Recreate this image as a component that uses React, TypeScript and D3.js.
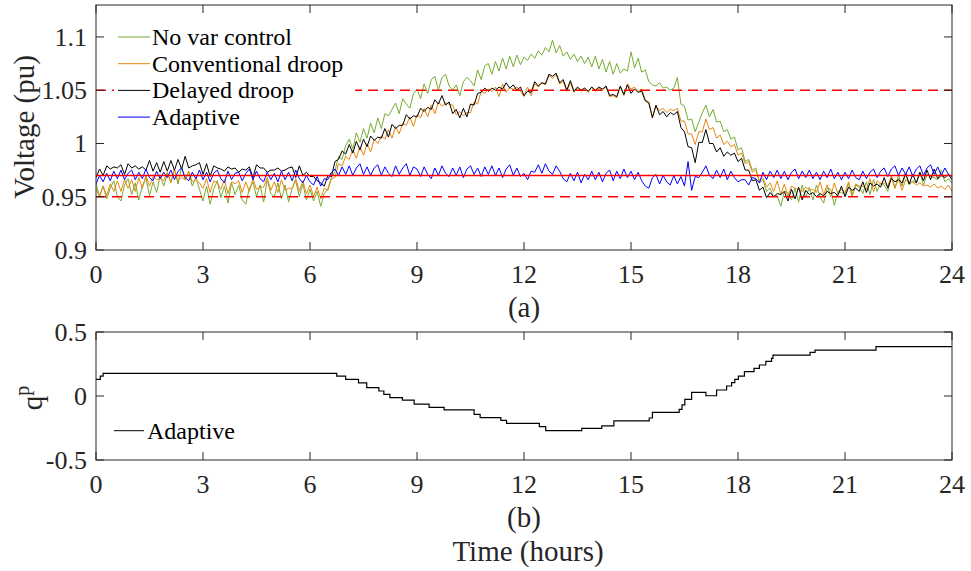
import React from 'react';
import * as d3 from 'd3';

// time grid: one sample every 0.1 h from 0 to 24 h
const STEP_H = 0.1;
// voltages in 0.001 pu, one row per hour
const noVarControl = [
  962,951,960,948,958,965,950,946,961,967,
  952,963,947,960,968,951,964,954,970,960,
  972,964,976,962,978,966,973,960,968,957,
  946,960,943,957,965,949,960,944,963,952,
  961,947,943,958,964,950,961,945,966,953,
  950,963,948,961,945,958,965,950,962,947,
  957,946,955,941,953,957,968,974,988,985,
  998,1004,995,1010,1001,1014,1005,1019,1010,1024,
  1014,1028,1026,1032,1038,1028,1042,1037,1033,1047,
  1051,1042,1056,1047,1060,1063,1050,1062,1065,1054,
  1050,1055,1045,1058,1062,1059,1054,1069,1060,1073,
  1075,1065,1077,1068,1080,1070,1082,1072,1083,1074,
  1081,1078,1084,1080,1087,1083,1090,1086,1097,1085,
  1092,1082,1086,1079,1084,1077,1082,1075,1081,1072,
  1082,1070,1079,1067,1077,1065,1075,1066,1070,1068,
  1086,1071,1080,1067,1069,1058,1055,1054,1057,1052,
  1053,1050,1052,1062,1037,1035,1022,1023,1011,1020,
  1029,1036,1025,1032,1020,1021,1011,1013,1004,1006,
  994,996,983,985,975,977,963,966,955,958,
  950,951,941,955,954,947,958,945,961,949,
  959,947,961,950,944,958,957,942,955,954,
  952,963,950,961,959,953,964,952,966,955,
  963,961,955,969,958,970,960,972,961,965,
  963,973,961,971,969,968,966,975,964,967,
  963,
];
const conventionalDroop = [
  957,950,960,951,962,955,965,955,966,958,
  966,955,968,958,970,960,969,966,967,965,
  973,963,975,965,968,966,974,964,966,963,
  958,967,954,965,963,957,966,953,964,962,
  965,954,964,955,967,957,959,959,968,956,
  964,954,966,956,958,958,967,955,965,953,
  961,950,959,948,958,956,967,968,981,979,
  988,985,994,986,997,989,1000,992,1004,1000,
  1007,1004,1013,1005,1016,1009,1019,1017,1025,1016,
  1027,1024,1033,1025,1036,1028,1039,1035,1038,1037,
  1036,1027,1030,1026,1029,1029,1039,1037,1049,1047,
  1051,1049,1053,1044,1056,1048,1052,1051,1053,1049,
  1044,1053,1045,1056,1053,1057,1055,1064,1061,1065,
  1056,1058,1049,1057,1048,1052,1049,1051,1048,1053,
  1049,1052,1050,1053,1044,1045,1043,1053,1045,1056,
  1051,1053,1049,1051,1041,1039,1025,1035,1031,1033,
  1029,1032,1031,1033,1021,1021,1009,1009,999,1011,
  1011,1023,1013,1015,1005,1008,999,1002,997,999,
  989,991,981,983,973,975,965,968,959,963,
  955,965,952,962,950,960,958,957,955,959,
  956,957,954,964,952,961,950,963,953,957,
  954,964,952,962,960,960,957,967,955,965,
  962,963,960,970,958,967,956,966,963,964,
  961,963,960,961,959,962,958,960,957,961,
  955,
];
const delayedDroop = [
  968,976,970,979,976,978,977,980,971,981,
  977,979,976,978,975,984,974,982,973,983,
  974,984,975,985,976,988,977,979,980,982,
  971,981,969,979,977,976,974,978,976,977,
  973,976,975,978,968,980,977,977,973,975,
  975,977,974,975,977,978,968,979,970,973,
  969,969,965,963,960,970,969,983,985,993,
  990,999,991,1002,994,1004,997,1007,1003,1006,
  1005,1014,1006,1018,1014,1017,1017,1027,1023,1026,
  1025,1033,1030,1034,1032,1041,1037,1045,1036,1039,
  1028,1032,1024,1033,1025,1037,1036,1047,1048,1052,
  1049,1052,1050,1053,1051,1057,1052,1055,1050,1053,
  1045,1049,1048,1058,1054,1057,1056,1065,1063,1066,
  1057,1060,1050,1059,1049,1053,1050,1052,1049,1053,
  1050,1053,1051,1054,1045,1046,1044,1054,1046,1055,
  1047,1051,1048,1049,1040,1038,1024,1036,1027,1030,
  1025,1029,1027,1030,1015,1011,997,996,982,1001,
  1001,1013,1000,1000,992,996,988,992,989,991,
  983,986,975,975,965,966,956,959,949,954,
  950,953,952,955,946,957,948,959,947,956,
  952,954,950,953,951,955,953,954,951,960,
  950,959,956,958,955,964,954,963,960,962,
  959,968,958,967,964,966,963,972,962,971,
  963,973,965,975,966,976,967,970,968,971,
  966,
];
const adaptive = [
  962,970,964,972,965,974,967,975,966,972,
  975,966,973,967,976,968,965,974,967,973,
  968,975,966,974,977,968,965,973,967,975,
  966,973,964,972,975,967,963,974,966,972,
  973,965,972,976,966,974,967,964,973,966,
  972,964,974,966,973,965,975,967,963,970,
  964,961,969,960,967,966,973,976,970,978,
  971,979,970,977,981,971,978,970,977,980,
  970,978,972,969,979,971,977,981,970,978,
  976,969,978,971,967,977,970,979,972,969,
  977,970,978,968,976,979,971,977,969,978,
  971,979,970,977,968,976,980,970,977,969,
  972,966,974,973,980,972,981,974,971,979,
  974,967,964,972,965,973,963,971,966,974,
  966,973,964,972,975,965,974,967,976,968,
  974,966,973,965,960,958,968,971,962,970,
  964,961,970,962,969,960,983,956,969,968,
  973,979,970,967,975,968,976,966,974,968,
  964,966,966,961,968,967,963,973,966,974,
  968,975,967,974,966,973,976,967,974,968,
  975,967,973,966,974,968,976,967,973,966,
  973,967,975,968,966,974,967,973,976,968,
  974,977,969,976,979,970,977,971,978,969,
  976,979,970,977,980,971,978,970,977,971,
  969,
];

// reactive power set-point q^p (step changes): start times (h) and values
const qTimes = [0, 0.12, 0.2, 6.75, 7.0, 7.36, 7.59, 7.93, 8.07, 8.24, 8.59, 8.92, 9.34, 9.76, 10.6, 10.77, 11.35, 11.51, 12.43, 12.61, 13.62, 14.18, 14.52, 15.51, 15.6, 16.35, 16.43, 16.51, 16.7, 17.1, 17.4, 17.68, 17.82, 17.91, 18.01, 18.18, 18.45, 18.6, 18.78, 18.94, 18.98, 20.02, 20.16, 21.87, 24];
const qValues = [0.13, 0.156, 0.177, 0.156, 0.13, 0.102, 0.065, 0.039, 0.013, -0.013, -0.033, -0.063, -0.089, -0.109, -0.143, -0.169, -0.19, -0.214, -0.24, -0.27, -0.253, -0.234, -0.194, -0.172, -0.128, -0.104, -0.07, -0.026, 0.029, 0.002, 0.047, 0.078, 0.104, 0.13, 0.156, 0.19, 0.216, 0.242, 0.271, 0.294, 0.32, 0.341, 0.359, 0.385, 0.385];

const xTickValues = [0, 3, 6, 9, 12, 15, 18, 21, 24];
const vTickValues = [0.9, 0.95, 1, 1.05, 1.1];
const vTickLabels = ['0.9', '0.95', '1', '1.05', '1.1'];
const qTickValues = [-0.5, 0, 0.5];
const qTickLabels = ['-0.5', '0', '0.5'];
const vLimitLow = 0.95;
const vLimitHigh = 1.05;
const vReference = 0.97;

const seriesNames = ['No var control', 'Conventional droop', 'Delayed droop', 'Adaptive'];
const seriesColors = ['#77AC30', '#E8870E', '#000000', '#0000FF'];

const FONT = '"Liberation Serif", "Times New Roman", "DejaVu Serif", serif';
const AX = '#262626';

export default function App() {
  const L = 96, R = 952;
  const T1 = 5, B1 = 250;
  const T2 = 332, B2 = 460;
  const x = d3.scaleLinear().domain([0, 24]).range([L, R]);
  const y1 = d3.scaleLinear().domain([0.9, 1.13]).range([B1, T1]);
  const y2 = d3.scaleLinear().domain([-0.5, 0.5]).range([B2, T2]);

  const all = [noVarControl, conventionalDroop, delayedDroop, adaptive];
  const vLine = d3.line<number>().x((_, i) => x(i * STEP_H)).y((d) => y1(d / 1000));
  const qLine = d3.line<number>().x((_, i) => x(qTimes[i])).y((d) => y2(d)).curve(d3.curveStepAfter);

  const tick = 8;
  const axisBox = (top: number, bottom: number, yTicks: number[], yScale: d3.ScaleLinear<number, number>, labels: string[]) => (
    <g>
      <rect x={L} y={top} width={R - L} height={bottom - top} fill="none" stroke={AX} strokeWidth={1} />
      {xTickValues.map((t) => (
        <g key={'xt' + t}>
          <line x1={x(t)} x2={x(t)} y1={bottom} y2={bottom - tick} stroke={AX} />
          <line x1={x(t)} x2={x(t)} y1={top} y2={top + tick} stroke={AX} />
          <text x={x(t)} y={bottom + 33} textAnchor="middle" fontSize={26} fill={AX}>{t}</text>
        </g>
      ))}
      {yTicks.map((v, i) => (
        <g key={'yt' + v}>
          <line x1={L} x2={L + tick} y1={yScale(v)} y2={yScale(v)} stroke={AX} />
          <line x1={R} x2={R - tick} y1={yScale(v)} y2={yScale(v)} stroke={AX} />
          <text x={L - 9} y={yScale(v) + 9} textAnchor="end" fontSize={26} fill={AX}>{labels[i]}</text>
        </g>
      ))}
    </g>
  );

  return (
    <svg width={971} height={571} style={{ position: 'absolute', left: 0, top: 0, background: '#fff', fontFamily: FONT }}>
      <rect x={0} y={0} width={971} height={571} fill="#fff" />
      {/* top panel */}
      <defs>
        <clipPath id="clipTop"><rect x={L} y={T1} width={R - L} height={B1 - T1} /></clipPath>
      </defs>
      <g clipPath="url(#clipTop)">
        {all.map((s, k) => (
          <path key={k} d={vLine(s) || ''} fill="none" stroke={seriesColors[k]} strokeWidth={1} strokeLinejoin="round" />
        ))}
        <line x1={L} x2={R} y1={y1(vReference)} y2={y1(vReference)} stroke="#FF0000" strokeWidth={1.5} />
        <line x1={L} x2={R} y1={y1(vLimitLow)} y2={y1(vLimitLow)} stroke="#FF0000" strokeWidth={1.5} strokeDasharray="10,6" />
        <line x1={L} x2={R} y1={y1(vLimitHigh)} y2={y1(vLimitHigh)} stroke="#FF0000" strokeWidth={1.5} strokeDasharray="10,6" />
      </g>
      {/* legend */}
      <rect x={114} y={18} width={241} height={112} fill="#fff" />
      {seriesNames.map((n, k) => {
        const cy = 37 + k * 26.7;
        return (
          <g key={n}>
            <line x1={118} x2={150} y1={cy} y2={cy} stroke={seriesColors[k]} strokeWidth={1} />
            <text x={152} y={cy + 8} fontSize={24} fill="#000">{n}</text>
          </g>
        );
      })}
      {axisBox(T1, B1, vTickValues, y1, vTickLabels)}
      <text transform={`translate(34,127) rotate(-90)`} textAnchor="middle" fontSize={29} fill={AX}>Voltage (pu)</text>
      <text x={(L + R) / 2} y={317} textAnchor="middle" fontSize={29} fill={AX}>(a)</text>

      {/* bottom panel */}
      <path d={qLine(qValues) || ''} fill="none" stroke="#000" strokeWidth={1.2} />
      <line x1={114} x2={144} y1={430.7} y2={430.7} stroke="#000" strokeWidth={1} />
      <text x={147} y={438.5} fontSize={24} fill="#000">Adaptive</text>
      {axisBox(T2, B2, qTickValues, y2, qTickLabels)}
      <text transform={`translate(42,398) rotate(-90)`} textAnchor="middle" fontSize={29} fill={AX}>
        q<tspan fontSize={20} dy={-13}>p</tspan>
      </text>
      <text x={(L + R) / 2} y={527} textAnchor="middle" fontSize={29} fill={AX}>(b)</text>
      <text x={528} y={561} textAnchor="middle" fontSize={29} fill={AX}>Time (hours)</text>
    </svg>
  );
}
